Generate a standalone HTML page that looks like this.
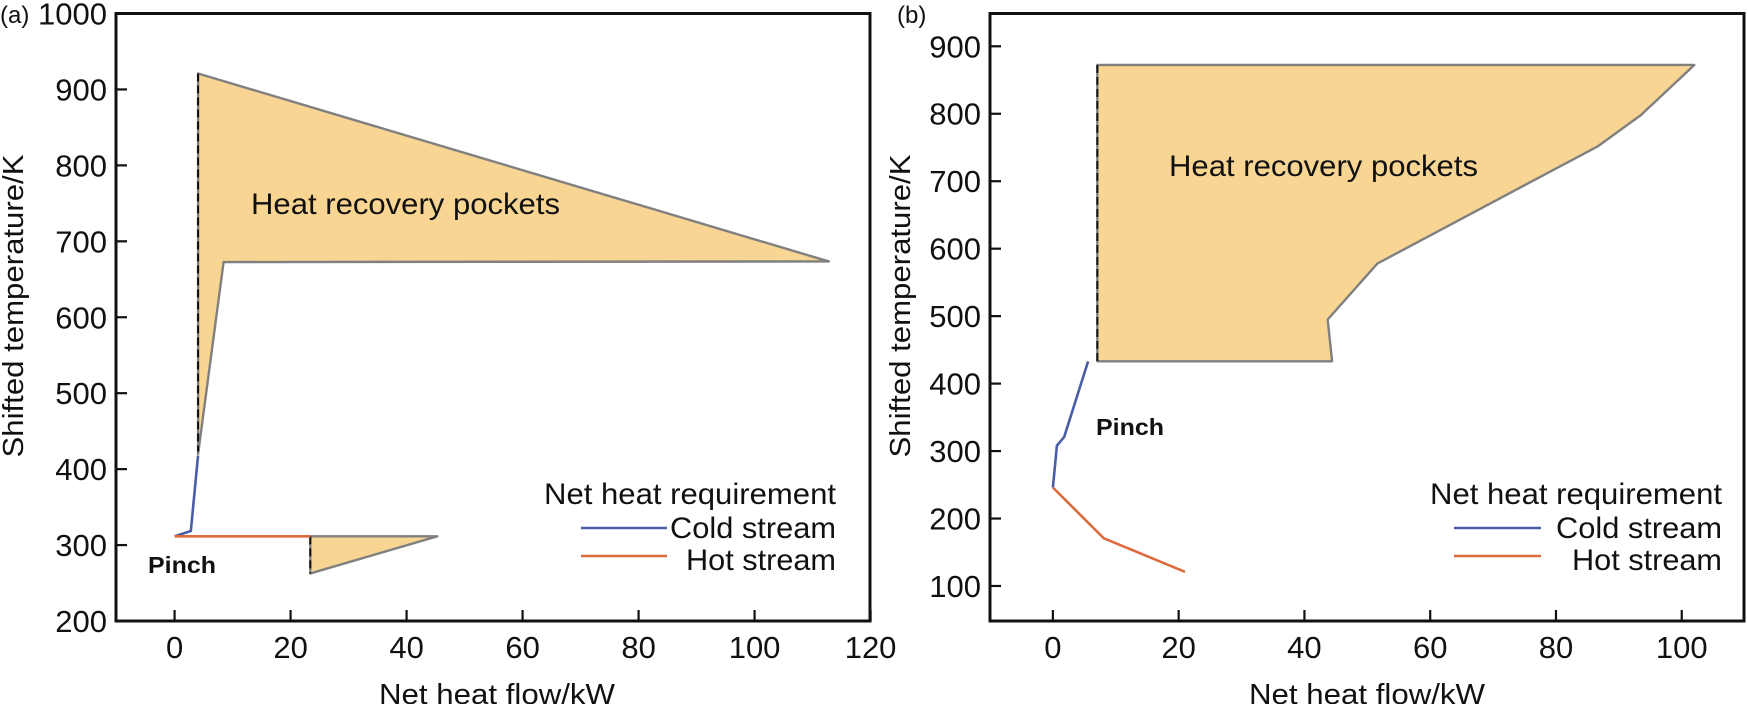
<!DOCTYPE html>
<html><head><meta charset="utf-8"><style>
html,body{margin:0;padding:0;background:#fff}
svg{display:block}
text{font-family:"Liberation Sans",Arial,sans-serif;fill:#111}
</style></head><body>
<svg id="chart" width="1748" height="704" viewBox="0 0 1748 704" xmlns="http://www.w3.org/2000/svg"></svg>
<script>
// Panel (a) data
const aXTicks=[0,20,40,60,80,100,120];
const aYTicks=[200,300,400,500,600,700,800,900,1000];
const aPocketQ=[4.05,4.05,8.45,112.8,4.05];
const aPocketT=[921,420,672.7,673.5,921];
const aColdQ=[0,2.4,2.8,4.05];
const aColdT=[311.5,317.5,318.5,418];
const aHotQ=[0,23.4];
const aHotT=[311.5,311.5];
const aSmallQ=[23.4,45.3,23.4];
const aSmallT=[311.5,311.5,262.6];
// Panel (b) data
const bXTicks=[0,20,40,60,80,100];
const bYTicks=[100,200,300,400,500,600,700,800,900];
const bPocketQ=[7.07,102,93.5,86.7,51.6,43.7,44.4,7.07];
const bPocketT=[872.3,872.3,798,752,578,495,433,433];
const bColdQ=[5.6,1.8,0.64,0];
const bColdT=[433,321,308,246];
const bHotQ=[0,8.1,21];
const bHotT=[246,170.7,121];

const NS="http://www.w3.org/2000/svg";
const svg=document.getElementById('chart');
function mk(tag,attrs,parent){const e=document.createElementNS(NS,tag);for(const k in attrs)e.setAttribute(k,attrs[k]);(parent||svg).appendChild(e);return e;}
function txt(s,attrs,parent){const e=mk('text',attrs,parent);e.textContent=s;return e;}

function panel(P){
  const g=mk('g',{});
  
  
  const X=v=>P.x0+(v-P.xmin)/(P.xmax-P.xmin)*(P.x1-P.x0);
  const Y=v=>P.y1-(v-P.ymin)/(P.ymax-P.ymin)*(P.y1-P.y0);
  const pts=(qs,ts)=>qs.map((q,i)=>X(q)+','+Y(ts[i])).join(' ');
  P.pockets.forEach((pk,i)=>{
    const p=mk('polygon',{points:pts(pk[0],pk[1]),fill:'#f8d592',stroke:'#808080','stroke-width':2.4,'stroke-linejoin':'round'},g);
    
    
  });
  P.dashes.forEach((d,i)=>{
    const l=mk('line',{x1:X(d[0]),x2:X(d[0]),y1:Y(d[1]),y2:Y(d[2]),stroke:'#111','stroke-width':2,'stroke-dasharray':'8,4'},g);
    
    
  });
  const cold=mk('polyline',{points:pts(P.cold[0],P.cold[1]),fill:'none',stroke:'#4a5ea8','stroke-width':2.6},g);
  
  
  const hot=mk('polyline',{points:pts(P.hot[0],P.hot[1]),fill:'none',stroke:'#dc6a3c','stroke-width':2.6},g);
  
  
  const fr=mk('rect',{x:P.x0,y:P.y0,width:P.x1-P.x0,height:P.y1-P.y0,fill:'none',stroke:'#111','stroke-width':3},g);
  
  
  P.xt.forEach(v=>{
    const t=mk('line',{x1:X(v),x2:X(v),y1:P.y1,y2:P.y1-11,stroke:'#111','stroke-width':2.2},g);
    
    
    const l=txt(String(v),{x:X(v),y:658,'text-anchor':'middle','font-size':31},g);
    
    
  });
  P.yt.forEach(v=>{
    const t=mk('line',{x1:P.x0,x2:P.x0+11,y1:Y(v),y2:Y(v),stroke:'#111','stroke-width':2.2},g);
    
    
    const l=txt(String(v),{x:P.x0-9,y:Y(v)+11,'text-anchor':'end','font-size':31},g);
    
    
  });
  const xt=txt('Net heat flow/kW',{x:P.xtx,y:704,'text-anchor':'middle','font-size':29,textLength:236,lengthAdjust:'spacingAndGlyphs'},g);
  
  
  const yt=txt('Shifted temperature/K',{x:0,y:0,'text-anchor':'middle','font-size':29,textLength:303,lengthAdjust:'spacingAndGlyphs',transform:`translate(${P.ytx},306) rotate(-90)`},g);
  
  
  const pl=txt(P.label,{x:P.lx,y:23,'font-size':24},g);
  
  
  const hr=txt('Heat recovery pockets',{x:P.hx,y:P.hy,'font-size':30,textLength:309,lengthAdjust:'spacingAndGlyphs'},g);
  
  
  const pn=txt('Pinch',{x:P.px,y:P.py,'font-size':23,'font-weight':'bold',textLength:68,lengthAdjust:'spacingAndGlyphs'},g);
  
  
  const lg=mk('g',{},g);
  
  
  const lt=txt('Net heat requirement',{x:P.legR,y:504,'text-anchor':'end','font-size':30,textLength:292,lengthAdjust:'spacingAndGlyphs'},lg);
  
  
  const c1=mk('line',{x1:P.legL,x2:P.legL+P.legW,y1:528,y2:528,stroke:'#4a5ea8','stroke-width':2.6},lg);
  
  
  const c2=txt('Cold stream',{x:P.legR,y:538,'text-anchor':'end','font-size':30,textLength:166,lengthAdjust:'spacingAndGlyphs'},lg);
  
  
  const h1=mk('line',{x1:P.legL,x2:P.legL+P.legW,y1:556,y2:556,stroke:'#dc6a3c','stroke-width':2.6},lg);
  
  
  const h2=txt('Hot stream',{x:P.legR,y:570,'text-anchor':'end','font-size':30,textLength:150,lengthAdjust:'spacingAndGlyphs'},lg);
  
  
}

panel({name:'panel-a',x0:116,x1:870,y0:13.5,y1:621,xmin:-10.1,xmax:119.9,ymin:200,ymax:1000,
  xt:aXTicks,yt:aYTicks,pockets:[[aPocketQ,aPocketT],[aSmallQ,aSmallT]],
  dashes:[[4.05,921,423],[23.4,311.5,262.6]],cold:[aColdQ,aColdT],hot:[aHotQ,aHotT],
  xtx:497,ytx:23,label:'(a)',lx:0,hx:251,hy:214,px:148,py:573,legL:581,legW:86,legR:836});
panel({name:'panel-b',x0:990,x1:1744,y0:13.5,y1:621,xmin:-10,xmax:109.9,ymin:48.1,ymax:948.6,
  xt:bXTicks,yt:bYTicks,pockets:[[bPocketQ,bPocketT]],
  dashes:[[7.07,872.3,433]],cold:[bColdQ,bColdT],hot:[bHotQ,bHotT],
  xtx:1367,ytx:910,label:'(b)',lx:897,hx:1169,hy:176,px:1096,py:435,legL:1454,legW:87,legR:1722});
</script>
</body></html>
